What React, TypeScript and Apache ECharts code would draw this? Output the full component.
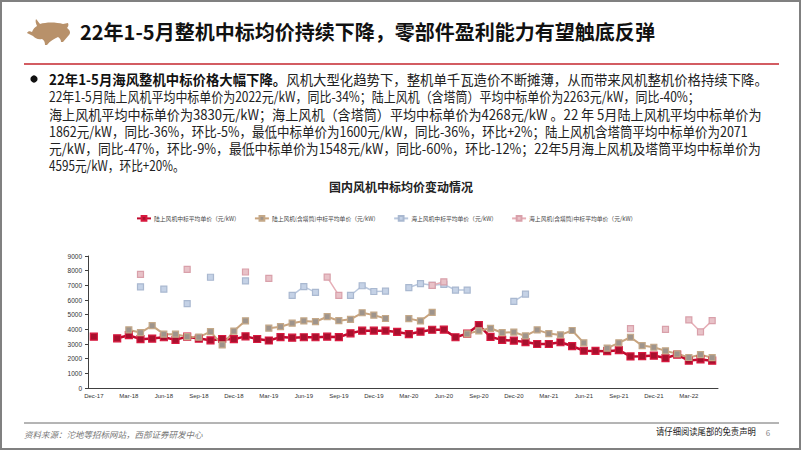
import React, { useEffect, useRef } from "react";
import * as echarts from "echarts";

const categories = [
  "Dec-17", "Jan-18", "Feb-18", "Mar-18", "Apr-18", "May-18", "Jun-18", "Jul-18", "Aug-18", "Sep-18", "Oct-18", "Nov-18",
  "Dec-18", "Jan-19", "Feb-19", "Mar-19", "Apr-19", "May-19", "Jun-19", "Jul-19", "Aug-19", "Sep-19", "Oct-19", "Nov-19",
  "Dec-19", "Jan-20", "Feb-20", "Mar-20", "Apr-20", "May-20", "Jun-20", "Jul-20", "Aug-20", "Sep-20", "Oct-20", "Nov-20",
  "Dec-20", "Jan-21", "Feb-21", "Mar-21", "Apr-21", "May-21", "Jun-21", "Jul-21", "Aug-21", "Sep-21", "Oct-21", "Nov-21",
  "Dec-21", "Jan-22", "Feb-22", "Mar-22", "Apr-22", "May-22",
];

const seriesNames = [
  "陆上风机中标平均单价（元/kW）",
  "陆上风机(含塔筒)中标平均单价（元/kW）",
  "海上风机中标平均单价（元/kW）",
  "海上风机(含塔筒)中标平均单价（元/kW）",
];

const onshore = [
  3500, null, 3390, 3600, 3330, 3370, 3460, 3280, 3500, 3370,
  3250, 3340, 3330, 3520, 3340, 3240, 3470, 3430, 3460, 3460,
  3500, 3470, 3730, 3910, 3910, 3910, 3820, 3680, 3840, 3970,
  3980, 3460, 3710, 4290, 3480, 3280, 3230, 3130, 3000, 3000,
  3120, 2860, 2540, 2530, 2510, 2580, 2150, 2170, 2210, 2040,
  2280, 1870, 1950, 1862,
];

const onshoreTower = [
  null, null, null, 3960, 3780, 4250, 3670, 3670, 3500, 3470,
  3850, 2940, 3880, 4580, null, 4080, 4180, 4420, 4570, 4520,
  4860, 4590, 4680, 5130, 4970, 4740, null, 4730, 4570, 5160,
  null, null, 3690, 3900, 4070, 3770, 3810, 3550, 3960, 3710,
  3620, 3920, 3080, null, 2720, 3080, 3460, 2890, 2780, 2530,
  2330, 2080, 2270, 2071,
];

const offshore = [
  null, null, null, null, 6900, null, 6740, null, 5750, null,
  7550, null, null, 7300, null, null, null, 6320, 6910, 6520,
  null, null, 6310, 6970, 6580, 6600, null, 6850, 7120, 7000,
  7070, 6680, 6680, null, null, null, 5900, 6400, null, null,
  null, null, null, null, null, null, null, null, null, null,
  null, null, null, null,
];

const offshoreTower = [
  null, null, null, null, 7750, null, null, null, 8090, null,
  null, null, null, 7910, null, 7470, null, null, null, null,
  7560, 6310, null, null, null, null, null, null, null, 7000,
  7240, null, null, null, null, null, null, null, null, null,
  null, null, null, null, null, null, 4050, null, null, 4000,
  null, 4640, 3830, 4595,
];

const headline = "22年1-5月整机中标均价持续下降，零部件盈利能力有望触底反弹";
const boldLead = "22年1-5月海风整机中标价格大幅下降。";
const paraLines = [
  "风机大型化趋势下，整机单千瓦造价不断摊薄，从而带来风机整机价格持续下降。",
  "22年1-5月陆上风机平均中标单价为2022元/kW，同比-34%；陆上风机（含塔筒）平均中标单价为2263元/kW，同比-40%；",
  "海上风机平均中标单价为3830元/kW；海上风机（含塔筒）平均中标单价为4268元/kW 。22 年 5月陆上风机平均中标单价为",
  "1862元/kW，同比-36%，环比-5%，最低中标单价为1600元/kW，同比-36%，环比+2%；陆上风机含塔筒平均中标单价为2071",
  "元/kW，同比-47%，环比-9%，最低中标单价为1548元/kW，同比-60%，环比-12%；22年5月海上风机及塔筒平均中标单价为",
  "4595元/kW，环比+20%。",
];
const chartTitle = "国内风机中标均价变动情况";
const sourceText = "资料来源：沱地等招标网站，西部证券研发中心";
const disclaimer = "请仔细阅读尾部的免责声明";
const pageNo = "6";

const BULL_D =
  "M36 19 C38 21 39 23 40 24 C46 22 56 22 63 24 L68 23 C69 25 68 27 67 28 C70 30 71 33 69 35 C67 37 65 40 63 42 L61 42 C61 40 60 38 58 37 C54 39 50 41 47 45 L45 45 C45 42 44 40 42 39 C38 40 35 38 33 36 C31 35 29 34 27 33 C28 31 30 31 32 32 C33 29 35 27 37 26 C36 24 35 21 36 19 Z";

const FONT = '"Noto Sans CJK SC", "Noto Sans", sans-serif';

function measure(text: string, font: string): number {
  const c = document.createElement("canvas").getContext("2d");
  if (!c) return text.length * 10;
  c.font = font;
  return c.measureText(text).width;
}

export default function App() {
  const ref = useRef<HTMLDivElement>(null);
  useEffect(() => {
    const el = ref.current;
    if (!el) return;
    try {
      echarts.graphic.registerShape("bull", echarts.graphic.extendPath(BULL_D as any, {}) as any);
    } catch (e) {}
    const chart = echarts.init(el, null, { renderer: "svg", width: 802, height: 451 });

    const graphics: any[] = [];
    graphics.push({ type: "rect", shape: { x: 1, y: 1, width: 799, height: 448 }, style: { fill: "none", stroke: "#808080", lineWidth: 2 }, silent: true });
    graphics.push({ type: "bull", x: 0, y: 0, scaleX: 1, scaleY: 1, style: { fill: "#B8916A" } });
    const hFs = 20;
    const hW = measure(headline, `bold ${hFs}px ${FONT}`);
    graphics.push({
      type: "text", x: 80, y: 32, scaleX: 575 / hW,
      style: { text: headline, fontSize: hFs, fontWeight: "bold", fontFamily: FONT, fill: "#111", verticalAlign: "middle", align: "left" },
    });
    graphics.push({ type: "line", shape: { x1: 24, y1: 64, x2: 779, y2: 64 }, style: { stroke: "#C4262E", lineWidth: 1.5 } });
    graphics.push({ type: "circle", shape: { cx: 34, cy: 79, r: 3.6 }, style: { fill: "#111" } });
    const pFs = 14;
    const lineY = [79, 96.3, 113.6, 130.9, 148.2, 165.5];
    const ends = [768, 700, 762, 748, 761, 185];
    const x0 = 49;
    {
      const wb = measure(boldLead, `bold ${pFs}px ${FONT}`);
      const wn = measure(paraLines[0], `${pFs}px ${FONT}`);
      const s = (ends[0] - x0) / (wb + wn);
      graphics.push({ type: "text", x: x0, y: lineY[0], scaleX: s, style: { text: boldLead, fontSize: pFs, fontWeight: "bold", fontFamily: FONT, fill: "#111", verticalAlign: "middle" } });
      graphics.push({ type: "text", x: x0 + wb * s, y: lineY[0], scaleX: s, style: { text: paraLines[0], fontSize: pFs, fontFamily: FONT, fill: "#222", verticalAlign: "middle" } });
    }
    for (let i = 1; i < paraLines.length; i++) {
      const w = measure(paraLines[i], `${pFs}px ${FONT}`);
      const s = Math.min(1, (ends[i] - x0) / w);
      graphics.push({ type: "text", x: x0, y: lineY[i], scaleX: s, style: { text: paraLines[i], fontSize: pFs, fontFamily: FONT, fill: "#222", verticalAlign: "middle" } });
    }
    graphics.push({ type: "text", x: 401, y: 186, style: { text: chartTitle, fontSize: 12, fontWeight: "bold", fontFamily: FONT, fill: "#222", align: "center", verticalAlign: "middle" } });
    graphics.push({ type: "line", shape: { x1: 24, y1: 423, x2: 779, y2: 423 }, style: { stroke: "#6a6a6a", lineWidth: 1 } });
    graphics.push({ type: "text", x: 24, y: 434, style: { text: sourceText, fontSize: 8.5, fontStyle: "italic", fontFamily: FONT, fill: "#777", verticalAlign: "middle" } });
    {
      const w = measure(disclaimer, `9px ${FONT}`);
      graphics.push({ type: "text", x: 656, y: 431, scaleX: 100 / w, style: { text: disclaimer, fontSize: 9, fontFamily: FONT, fill: "#222", verticalAlign: "middle" } });
    }
    graphics.push({ type: "text", x: 768, y: 432, style: { text: pageNo, fontSize: 8, fontFamily: FONT, fill: "#888", align: "center", verticalAlign: "middle" } });

    const mk = (name: string, data: any[], line: string, fill: string, border: string, lw: number, size: number) => ({
      name,
      type: "line",
      data,
      connectNulls: false,
      showAllSymbol: true,
      symbol: "rect",
      symbolSize: size,
      lineStyle: { color: line, width: lw },
      itemStyle: { color: fill, borderColor: border, borderWidth: 1.2 },
      emphasis: { disabled: true },
    });

    const option: any = {
      animation: false,
      backgroundColor: "#ffffff",
      textStyle: { fontFamily: FONT },
      grid: { left: 88, right: 84, top: 256, bottom: 63, containLabel: false },
      legend: {
        top: 210,
        left: 131,
        itemGap: 14,
        itemWidth: 14,
        itemHeight: 6,
        textStyle: { fontSize: 5.8, color: "#444", fontFamily: FONT, padding: [0, 0, 0, -2] },
        data: seriesNames,
      },
      xAxis: {
        type: "category",
        data: categories,
        boundaryGap: true,
        axisLine: { lineStyle: { color: "#404040", width: 1 } },
        axisTick: { interval: 2, length: 3, inside: true, lineStyle: { color: "#404040" } },
        axisLabel: { interval: 2, fontSize: 6, color: "#333", margin: 5, fontFamily: '"Liberation Sans", Arial, sans-serif' },
        splitLine: { show: false },
      },
      yAxis: {
        type: "value",
        min: 0,
        max: 9000,
        interval: 1000,
        axisLine: { show: true, lineStyle: { color: "#404040", width: 1 } },
        axisTick: { show: true, length: 3, lineStyle: { color: "#404040" } },
        axisLabel: { fontSize: 6.5, color: "#333", margin: 6, fontFamily: '"Liberation Sans", Arial, sans-serif', formatter: (v: number) => String(v) },
        splitLine: { show: false },
      },
      series: [
        mk(seriesNames[0], onshore, "#C00A2E", "#A8102E", "#D8183E", 2.5, 7),
        mk(seriesNames[1], onshoreTower, "#C9A47E", "#9E948C", "#C4A888", 2, 6),
        mk(seriesNames[2], offshore, "#B9C7DD", "#C5D2E6", "#A9B8D0", 1.5, 6),
        mk(seriesNames[3], offshoreTower, "#E6AEB6", "#E8C2C8", "#D9A0AA", 1.5, 6),
      ],
      graphic: graphics,
    };
    chart.setOption(option);
    return () => chart.dispose();
  }, []);
  return <div ref={ref} style={{ position: "absolute", left: 0, top: 0, width: 802, height: 451, background: "#fff" }} />;
}
